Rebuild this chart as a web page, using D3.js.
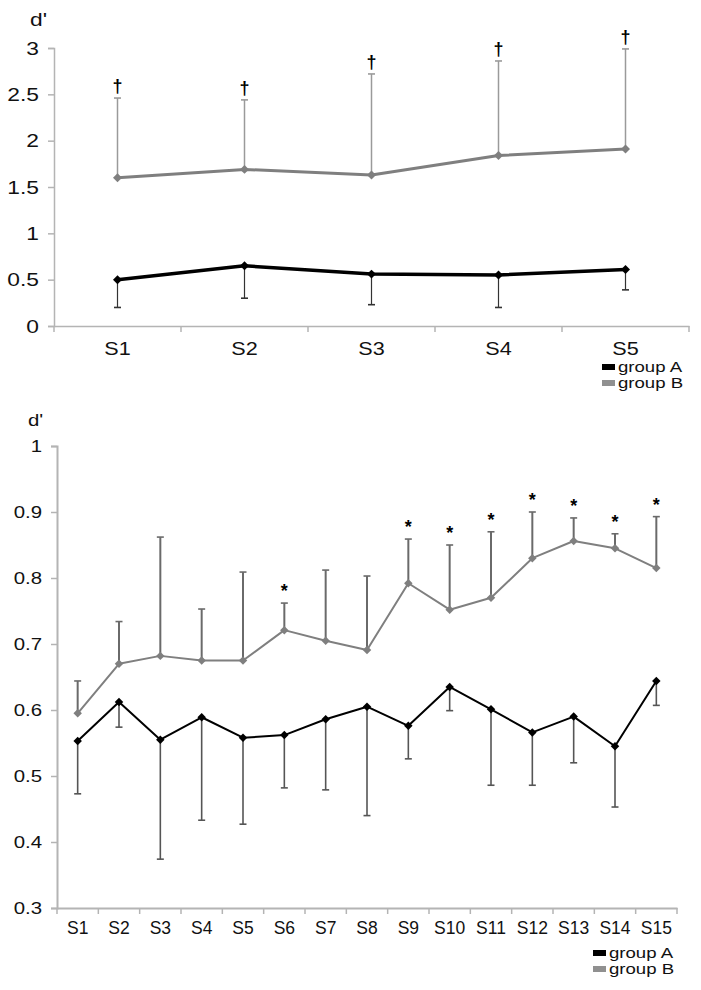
<!DOCTYPE html>
<html><head><meta charset="utf-8">
<script src="https://cdn.jsdelivr.net/npm/d3@7"></script>
<style>body{margin:0;background:#fff}svg{display:block}</style>
</head><body>
<svg id="c" width="701" height="990"></svg>
<script>
// ---------- DATA ----------
const topCategories = ["S1","S2","S3","S4","S5"];
const topGroupA = [0.50, 0.65, 0.56, 0.55, 0.61];
const topGroupALow = [0.20, 0.30, 0.23, 0.20, 0.39];
const topGroupB = [1.60, 1.69, 1.63, 1.84, 1.91];
const topGroupBHigh = [2.46, 2.44, 2.72, 2.86, 2.99];
const topMarks = ["†","†","†","†","†"];
const topYTicks = [0, 0.5, 1, 1.5, 2, 2.5, 3];
const topYLabels = ["0","0.5","1","1.5","2","2.5","3"];

const botCategories = ["S1","S2","S3","S4","S5","S6","S7","S8","S9","S10","S11","S12","S13","S14","S15"];
const botGroupA = [0.553,0.612,0.555,0.589,0.558,0.562,0.586,0.605,0.576,0.635,0.601,0.566,0.590,0.545,0.644];
const botGroupALow = [0.473,0.574,0.374,0.433,0.427,0.482,0.479,0.440,0.526,0.599,0.486,0.486,0.520,0.453,0.607];
const botGroupB = [0.595,0.670,0.682,0.675,0.675,0.721,0.705,0.691,0.792,0.752,0.770,0.830,0.856,0.845,0.815];
const botGroupBHigh = [0.644,0.734,0.862,0.753,0.809,0.762,0.812,0.803,0.859,0.850,0.870,0.900,0.891,0.867,0.893];
const botMarks = ["","","","","","*","","","*","*","*","*","*","*","*"];
const botYTicks = [0.3,0.4,0.5,0.6,0.7,0.8,0.9,1];
const botYLabels = ["0.3","0.4","0.5","0.6","0.7","0.8","0.9","1"];

const legendLabels = ["group A","group B"];
const yTitle = "d'";

// ---------- DRAW ----------
const svg = d3.select("#c");
const FONT = "'Liberation Sans', Arial, sans-serif";
const AXIS = "#b4b4b4";
const COL_A = "#000000", COL_B = "#7f7f7f";

function stretchText(sel, sx){
  sel.each(function(){
    const t = d3.select(this);
    const x = +t.attr("x") || 0;
    t.attr("x", x / sx).attr("transform", `scale(${sx},1)`);
  });
}

function chart(cfg){
  const x = d3.scaleBand().domain(cfg.cats).range(cfg.xr).padding(0);
  const y = d3.scaleLinear().domain(cfg.yd).range(cfg.yr);
  const g = svg.append("g");
  const cx = d => x(d) + x.bandwidth()/2;

  // y axis
  const ya = d3.axisLeft(y).tickValues(cfg.yTicks).tickSize(6).tickPadding(cfg.yPad)
    .tickFormat((d,i) => cfg.yLabels[i]);
  const yg = g.append("g").attr("transform", `translate(${cfg.xr[0]},0)`).call(ya);
  yg.select(".domain").attr("stroke", AXIS).attr("stroke-width", cfg.axisW);
  yg.selectAll(".tick line").attr("stroke", AXIS).attr("stroke-width", 1.5);
  yg.selectAll("text").attr("font-family", FONT).attr("font-size", cfg.yFont).attr("fill", "#111");
  stretchText(yg.selectAll("text"), cfg.sx);

  // x axis
  const xa = d3.axisBottom(x).tickSize(0).tickPadding(cfg.xPad);
  const xg = g.append("g").attr("transform", `translate(0,${cfg.yr[0]})`).call(xa);
  xg.select(".domain").attr("stroke", AXIS).attr("stroke-width", cfg.axisW);
  xg.selectAll("text").attr("font-family", FONT).attr("font-size", cfg.xFont).attr("fill", "#111");
  stretchText(xg.selectAll("text"), cfg.xsx);
  const bounds = cfg.cats.map(c => x(c)).concat([x.range()[1]]);
  g.selectAll(".xb").data(bounds).enter().append("line")
    .attr("x1", d => d).attr("x2", d => d)
    .attr("y1", cfg.yr[0]).attr("y2", cfg.yr[0] + 6)
    .attr("stroke", AXIS).attr("stroke-width", 1.5);

  // y title
  g.append("text").attr("x", cfg.titleX / cfg.sx).attr("y", cfg.titleY)
    .attr("transform", `scale(${cfg.sx},1)`)
    .attr("font-family", FONT).attr("font-size", cfg.yFont).attr("fill", "#111")
    .text(yTitle);

  // error bars
  function errBars(vals, bounds, col, w){
    const eb = g.append("g");
    cfg.cats.forEach((c,i) => {
      eb.append("line").attr("x1", cx(c)).attr("x2", cx(c))
        .attr("y1", y(vals[i])).attr("y2", y(bounds[i]))
        .attr("stroke", col).attr("stroke-width", w);
      eb.append("line").attr("x1", cx(c) - 3.5).attr("x2", cx(c) + 3.5)
        .attr("y1", y(bounds[i])).attr("y2", y(bounds[i]))
        .attr("stroke", col).attr("stroke-width", 1.6);
    });
  }
  errBars(cfg.B, cfg.BHigh, cfg.errBCol, cfg.errBW);
  errBars(cfg.A, cfg.ALow, cfg.errACol, cfg.errAW);

  // lines
  const line = d3.line().x((d,i) => cx(cfg.cats[i])).y(d => y(d));
  g.append("path").datum(cfg.B).attr("d", line).attr("fill", "none")
    .attr("stroke", COL_B).attr("stroke-width", cfg.lineBW).attr("stroke-linejoin", "round");
  g.append("path").datum(cfg.A).attr("d", line).attr("fill", "none")
    .attr("stroke", COL_A).attr("stroke-width", cfg.lineAW).attr("stroke-linejoin", "round");

  // markers
  const sym = d3.symbol(d3.symbolSquare).size(cfg.markSize);
  [[cfg.B, COL_B], [cfg.A, COL_A]].forEach(([vals, col]) => {
    g.selectAll(null).data(vals).enter().append("path")
      .attr("d", sym)
      .attr("transform", (d,i) => `translate(${cx(cfg.cats[i])},${y(d)}) rotate(45)`)
      .attr("fill", col);
  });

  // significance marks
  g.selectAll(null).data(cfg.marks).enter().append("text")
    .attr("x", (d,i) => cx(cfg.cats[i]))
    .attr("y", (d,i) => y(cfg.BHigh[i]) - cfg.markOff)
    .attr("text-anchor", "middle")
    .attr("font-family", FONT).attr("font-weight", "bold")
    .attr("font-size", cfg.markFont).attr("fill", "#000")
    .text(d => d);

  // legend
  const lg = g.append("g");
  legendLabels.forEach((lab, i) => {
    const yy = cfg.legY + i * cfg.legStep;
    lg.append("rect").attr("x", cfg.legX).attr("y", yy - 3).attr("width", 13).attr("height", 6)
      .attr("fill", i === 0 ? COL_A : "#909090");
    lg.append("text").attr("x", (cfg.legX + 16) / cfg.sx).attr("y", yy)
      .attr("dy", "0.35em").attr("transform", `scale(${cfg.sx},1)`)
      .attr("font-family", FONT).attr("font-size", cfg.legFont).attr("fill", "#111")
      .text(lab);
  });
}

chart({
  cats: topCategories, A: topGroupA, ALow: topGroupALow, B: topGroupB, BHigh: topGroupBHigh,
  marks: topMarks, yTicks: topYTicks, yLabels: topYLabels,
  xr: [54, 689], yr: [326, 48], yd: [0, 3],
  yPad: 9, xPad: 16, yFont: 19, xFont: 18, sx: 1.2, xsx: 1.2, axisW: 1.5,
  titleX: 30, titleY: 26,
  errBCol: "#9a9a9a", errBW: 1.5, errACol: "#333", errAW: 1.2,
  lineBW: 3, lineAW: 3.5, markSize: 40,
  markOff: 6, markFont: 18,
  legX: 602, legY: 367, legStep: 16, legFont: 15.5
});

chart({
  cats: botCategories, A: botGroupA, ALow: botGroupALow, B: botGroupB, BHigh: botGroupBHigh,
  marks: botMarks, yTicks: botYTicks, yLabels: botYLabels,
  xr: [57, 677], yr: [908, 446], yd: [0.3, 1],
  yPad: 9, xPad: 14, yFont: 17, xFont: 17.5, sx: 1.2, xsx: 1.0, axisW: 2,
  titleX: 28, titleY: 426,
  errBCol: "#6a6a6a", errBW: 2, errACol: "#555", errAW: 1.6,
  lineBW: 2, lineAW: 2, markSize: 36,
  markOff: 6, markFont: 18,
  legX: 593, legY: 953, legStep: 16, legFont: 15.5
});
</script>
</body></html>
